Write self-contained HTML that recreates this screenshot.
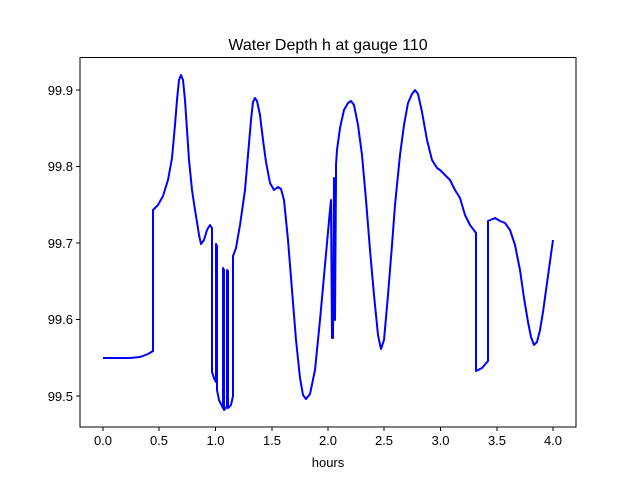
<!DOCTYPE html>
<html><head><style>body{margin:0;background:#fff}svg{display:block}text{font-family:"Liberation Sans","DejaVu Sans",sans-serif;font-size:13px;fill:#000}</style></head>
<body><svg width="640" height="480" viewBox="0 0 640 480">
<rect width="640" height="480" fill="#fff"/>
<text x="328" y="50" text-anchor="middle" style="font-size:16px">Water Depth h at gauge 110</text>
<g stroke="#000" stroke-width="1">
<line x1="103" y1="427" x2="103" y2="431"/><line x1="159" y1="427" x2="159" y2="431"/><line x1="215.5" y1="427" x2="215.5" y2="431"/><line x1="272" y1="427" x2="272" y2="431"/><line x1="328" y1="427" x2="328" y2="431"/><line x1="384" y1="427" x2="384" y2="431"/><line x1="440.5" y1="427" x2="440.5" y2="431"/><line x1="497" y1="427" x2="497" y2="431"/><line x1="553" y1="427" x2="553" y2="431"/>
<line x1="76" y1="396" x2="80" y2="396"/><line x1="76" y1="319.5" x2="80" y2="319.5"/><line x1="76" y1="243" x2="80" y2="243"/><line x1="76" y1="166.5" x2="80" y2="166.5"/><line x1="76" y1="90" x2="80" y2="90"/>
</g>
<g text-anchor="middle">
<text x="103" y="445">0.0</text><text x="159" y="445">0.5</text><text x="215.5" y="445">1.0</text><text x="272" y="445">1.5</text><text x="328" y="445">2.0</text><text x="384" y="445">2.5</text><text x="440.5" y="445">3.0</text><text x="497" y="445">3.5</text><text x="553" y="445">4.0</text>
<text x="328" y="467">hours</text>
</g>
<g text-anchor="end">
<text x="73" y="401">99.5</text><text x="73" y="324">99.6</text><text x="73" y="248">99.7</text><text x="73" y="171">99.8</text><text x="73" y="95">99.9</text>
</g>
<polyline fill="none" stroke="#0000ff" stroke-width="2" stroke-linejoin="round" points="103,358 130,358 140,357 148,354 153,351 153,210 158,205 163,196 168,180 172,158 175,125 177,100 179,80 181,75 183,80 185,100 187,130 189,160 192,190 195,210 197,222 199,235 201,244 204,240 207,230 210,225 212,228 212,372 214,378 216,382 216,244 217,246 217,390 219,400 222,406 223,408 223,268 224,270 224,410 226,408 227,406 227,270 228,271 228,408 231,405 233,396 233,256 236,248 240,225 245,190 248,155 251,120 253,102 255,98 257,101 260,115 263,140 266,162 270,183 274,190 278,187 281,189 284,200 288,240 292,290 296,340 300,378 303,395 306,399 310,394 315,370 320,320 325,265 330,210 331,200 332,338 333,338 334,178 335,320 336,178 336,165 337,150 340,128 344,110 348,103 351,101 354,105 358,125 362,155 366,200 370,250 374,295 378,335 381,349 384,340 388,295 392,245 395,205 400,155 404,125 408,103 412,94 415,90 418,94 422,112 427,140 432,160 437,168 440,170 445,175 450,180 455,190 460,198 465,215 470,225 476,233 476,371 482,368 488,361 488,221 495,218 500,221 505,223 510,230 515,245 520,270 524,298 528,322 531,337 534,345 537,342 540,330 543,312 547,283 553,240"/>
<rect x="80" y="57.5" width="496" height="369.5" fill="none" stroke="#000" stroke-width="1"/>
</svg></body></html>
